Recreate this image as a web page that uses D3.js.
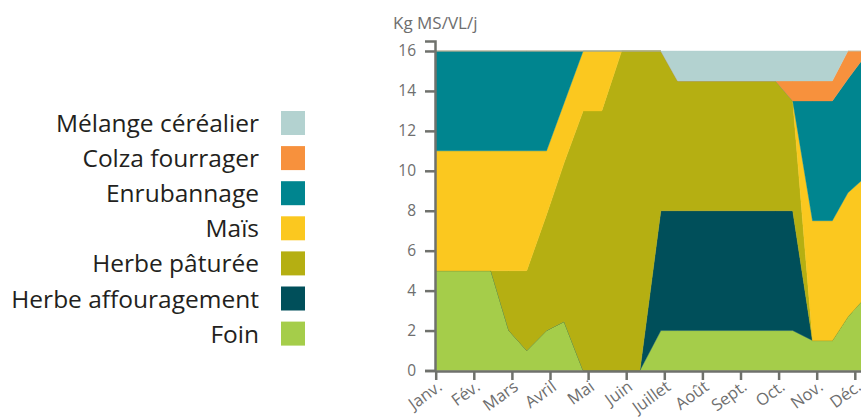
<!DOCTYPE html>
<html>
<head>
<meta charset="utf-8">
<script src="https://cdn.jsdelivr.net/npm/d3@7"></script>
<style>
  body { margin: 0; background: #fff; }
  svg { display: block; font-family: "Open Sans", sans-serif; }
</style>
</head>
<body>
<div id="chart"></div>
<script>
// --- Data ---
const monthLabels = ["Janv.", "Fév.", "Mars", "Avril", "Mai", "Juin", "Juillet", "Août", "Sept.", "Oct.", "Nov.", "Déc."];

// position of each point, in months from 1 Jan
const xPos = [0, 1.45, 1.92, 2.39, 2.91, 3.37, 3.87, 4.36, 4.88, 5.36, 5.91, 6.35, 8.92, 9.37, 9.89, 10.41, 10.82, 11.29];

const foin        = [5, 5, 2, 1, 2, 2.45, 0, 0, 0, 0, 2, 2, 2, 2, 1.5, 1.5, 2.7, 3.7];
const affourag    = [0, 0, 0, 0, 0, 0, 0, 0, 0, 0, 6, 6, 6, 6, 0, 0, 0, 0];
const paturee     = [0, 0, 3, 4, 5.8, 7.95, 13, 13, 16, 16, 8, 6.5, 6.5, 5.5, 0, 0, 0, 0];
const mais        = [6, 6, 6, 6, 3.2, 3, 3, 3, 0, 0, 0, 0, 0, 0, 6, 6, 6.2, 6];
const enrubannage = [5, 5, 5, 5, 5, 2.6, 0, 0, 0, 0, 0, 0, 0, 0, 6, 6, 5.7, 6.1];
const colza       = [0, 0, 0, 0, 0, 0, 0, 0, 0, 0, 0, 0, 0, 1, 1, 1, 1.4, 0.2];
const melange     = [0, 0, 0, 0, 0, 0, 0, 0, 0, 0, 0, 1.5, 1.5, 1.5, 1.5, 1.5, 0, 0];

const seriesNames = ["Foin", "Herbe affouragement", "Herbe pâturée", "Maïs", "Enrubannage", "Colza fourrager", "Mélange céréalier"];
const seriesValues = [foin, affourag, paturee, mais, enrubannage, colza, melange];
const colors = ["#a5cd4a", "#004f5a", "#b5af12", "#fbc81f", "#00858f", "#f7913d", "#b3d2d0"];
const yTicks = [0, 2, 4, 6, 8, 10, 12, 14, 16];

// build rows for d3.stack
const rows = xPos.map((x, i) => {
    const r = { x: x };
    seriesNames.forEach((name, k) => { r[name] = seriesValues[k][i]; });
    return r;
});

// --- Setup ---
const width = 861;
const height = 419;
const axisColor = "#6f716c";
const labelColor = "#6e6e6e";

const svg = d3.select("#chart").append("svg")
    .attr("width", width)
    .attr("height", height);

const x = d3.scaleLinear().domain([0, 12]).range([435.7, 435.7 + 12 * 38.1]);
const y = d3.scaleLinear().domain([0, 16.5]).range([370.5, 41]);

const stack = d3.stack().keys(seriesNames);
const layers = stack(rows);

const area = d3.area()
    .x(d => x(d.data.x))
    .y0(d => y(d[0]))
    .y1(d => y(d[1]));

svg.append("g")
    .selectAll("path")
    .data(layers)
    .join("path")
    .attr("fill", (d, i) => colors[i])
    .attr("stroke", (d, i) => colors[i])
    .attr("stroke-width", 0.4)
    .attr("d", area);

// --- Axes ---
const yAxis = d3.axisLeft(y).tickValues(yTicks).tickSize(10).tickPadding(9);
const gy = svg.append("g")
    .attr("transform", "translate(435,0)")
    .call(yAxis)
    .attr("font-family", "Open Sans")
    .attr("font-size", 15.5);
gy.select(".domain").attr("stroke", axisColor).attr("stroke-width", 2.5);
gy.selectAll(".tick line").attr("stroke", axisColor).attr("stroke-width", 2.5);
gy.selectAll(".tick text").attr("fill", labelColor);

const xAxis = d3.axisBottom(x)
    .tickValues(d3.range(monthLabels.length))
    .tickFormat(i => monthLabels[i])
    .tickSize(9)
    .tickSizeOuter(0);
const gx = svg.append("g")
    .attr("transform", "translate(0,371)")
    .call(xAxis)
    .attr("font-family", "Open Sans")
    .attr("font-size", 16.5);
gx.select(".domain").attr("stroke", axisColor).attr("stroke-width", 2.5);
gx.selectAll(".tick line").attr("stroke", axisColor).attr("stroke-width", 2.5);
gx.selectAll(".tick text")
    .attr("fill", labelColor)
    .attr("text-anchor", "end")
    .attr("dy", null)
    .attr("y", null)
    .attr("transform", "translate(7,18) rotate(-36)");

svg.append("text")
    .attr("x", 393)
    .attr("y", 29)
    .attr("fill", labelColor)
    .attr("font-size", 17)
    .text("Kg MS/VL/j");

// --- Legend ---
const legendOrder = seriesNames.slice().reverse();
const legend = svg.append("g")
    .selectAll("g")
    .data(legendOrder)
    .join("g")
    .attr("transform", (d, i) => `translate(0,${111 + i * 35.1})`);

legend.append("rect")
    .attr("x", 281)
    .attr("width", 24)
    .attr("height", 24)
    .attr("fill", d => colors[seriesNames.indexOf(d)]);

legend.append("text")
    .attr("x", 259)
    .attr("y", 21)
    .attr("text-anchor", "end")
    .attr("fill", "#231f20")
    .attr("font-size", 24.5)
    .text(d => d);
</script>
</body>
</html>
